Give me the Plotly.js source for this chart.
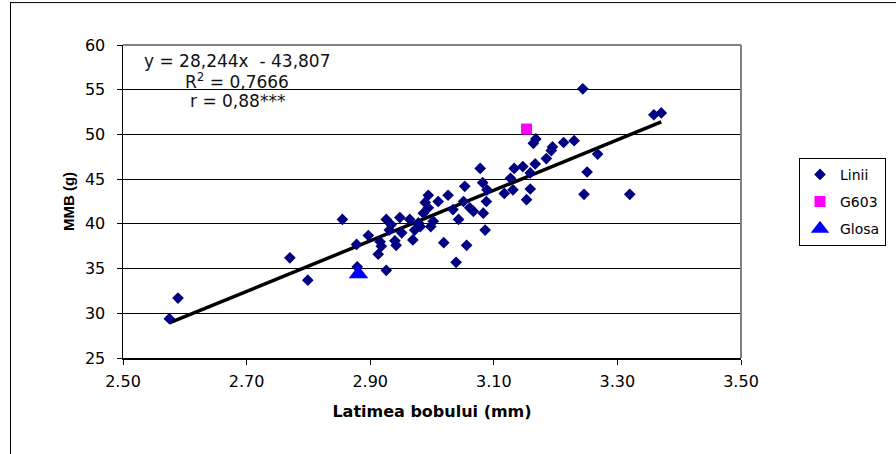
<!DOCTYPE html>
<html>
<head>
<meta charset="utf-8">
<script src="https://cdn.plot.ly/plotly-3.0.1.min.js"></script>
<style>html,body{margin:0;padding:0;background:#fff;}</style>
</head>
<body>
<div id="chart" style="width:896px;height:454px;"></div>
<script>
// ---- data ----
const liniiX = [2.575,2.589,2.770,2.799,2.855,2.878,2.879,2.897,2.913,2.916,2.918,2.926,2.926,2.931,2.934,2.940,2.942,2.948,2.951,2.964,2.969,2.972,2.978,2.981,2.986,2.989,2.994,2.994,2.998,3.002,3.010,3.019,3.026,3.034,3.039,3.043,3.051,3.053,3.056,3.061,3.067,3.078,3.082,3.083,3.086,3.088,3.089,3.117,3.127,3.131,3.133,3.147,3.153,3.159,3.159,3.164,3.168,3.167,3.185,3.193,3.195,3.213,3.230,3.244,3.246,3.251,3.268,3.320,3.359,3.371];
const liniiY = [29.4,31.7,36.2,33.7,40.5,37.7,35.2,38.7,36.6,38.0,37.5,34.8,40.5,39.3,39.9,38.1,37.6,40.7,39.0,40.5,38.2,39.3,40.1,39.7,41.2,42.4,43.2,41.8,39.7,40.3,42.5,37.9,43.2,41.6,35.7,40.5,42.5,44.2,37.6,41.8,41.4,46.2,44.6,41.2,39.3,42.5,43.8,43.4,45.1,43.8,46.2,46.4,42.7,43.9,45.7,49.0,49.5,46.7,47.3,48.2,48.6,49.1,49.3,55.1,43.3,45.8,47.8,43.3,52.2,52.4];
const g603X = [3.153];
const g603Y = [50.6];
const glosaX = [2.881];
const glosaY = [34.4];
const trendSlope = 28.244;
const trendIntercept = -43.807;
const xTickVals = [2.5, 2.7, 2.9, 3.1, 3.3, 3.5];
const xTickText = ['2.50', '2.70', '2.90', '3.10', '3.30', '3.50'];
const yTickVals = [25, 30, 35, 40, 45, 50, 55, 60];
const equationLines = ['y = 28,244x  - 43,807', 'R<sup>2</sup> = 0,7666', 'r = 0,88***'];

// trend line built from the regression constants over the Linii x-range
const tx = [Math.min(...liniiX), Math.max(...liniiX)];
const ty = tx.map(v => trendSlope * v + trendIntercept);

const SANS = 'Liberation Sans, Arial, sans-serif';
const WIDE = 'DejaVu Sans, Liberation Sans, sans-serif';

const traces = [
  {x: tx, y: ty, mode: 'lines', line: {color: '#000', width: 3.5}, showlegend: false, hoverinfo: 'skip'},
  {x: liniiX, y: liniiY, mode: 'markers', name: 'Linii', legendgroup: 'a',
   marker: {symbol: 'diamond', size: 9, color: '#000080'}},
  {x: g603X, y: g603Y, mode: 'markers', name: 'G603', legendgroup: 'b',
   marker: {symbol: 'square', size: 11, color: '#FF00FF'}},
  {x: glosaX, y: glosaY, mode: 'markers', name: 'Glosa', legendgroup: 'c',
   marker: {symbol: 'triangle-up', size: 17, color: '#0000FF'}}
];

const L = 123, R = 741, T = 45, B = 358.5;
const px = v => (v - L) / (R - L);
const py = v => (B - v) / (B - T);

const eqY = [61.5, 81.5, 101.5];

const layout = {
  width: 896, height: 454,
  margin: {l: L, r: 896 - R, t: T, b: 454 - B, pad: 0, autoexpand: false},
  paper_bgcolor: '#fff', plot_bgcolor: '#fff',
  font: {family: WIDE, color: '#000', size: 15},
  showlegend: true,
  legend: {
    x: px(799), y: py(158), xanchor: 'left', yanchor: 'top',
    bordercolor: '#000', borderwidth: 1, bgcolor: '#fff',
    font: {size: 14, family: WIDE}, itemwidth: 30, tracegroupgap: 6
  },
  xaxis: {
    range: [2.5, 3.5], tickvals: xTickVals, ticktext: xTickText,
    showgrid: false, zeroline: false, showline: true, linecolor: '#000', linewidth: 1.5,
    ticks: 'outside', ticklen: 5, tickcolor: '#000', tickwidth: 1,
    tickfont: {size: 16, family: WIDE}, ticklabelstandoff: 3,
    title: {text: '<b>Latimea bobului (mm)</b>', font: {size: 16, family: WIDE}, standoff: 16}
  },
  yaxis: {
    range: [25, 60], tickvals: yTickVals,
    showgrid: true, gridcolor: '#000', gridwidth: 1, zeroline: false,
    showline: true, linecolor: '#000', linewidth: 1.5,
    ticks: 'outside', ticklen: 5, tickcolor: '#000', tickwidth: 1,
    tickfont: {size: 16, family: WIDE}, ticklabelstandoff: 8,
    title: {text: '<b>MMB (g)</b>', font: {size: 15, family: SANS}, standoff: 6}
  },
  annotations: equationLines.map((t, i) => ({
    xref: 'paper', yref: 'paper', x: px(237), y: py(eqY[i]), xanchor: 'center', yanchor: 'middle',
    text: t, showarrow: false, align: 'center',
    font: {size: 17, family: WIDE, color: '#111'}
  })),
  shapes: [
    {type: 'line', xref: 'paper', yref: 'paper', x0: 0, x1: 1, y0: 1, y1: 1, line: {color: '#808080', width: 2}},
    {type: 'line', xref: 'paper', yref: 'paper', x0: 1, x1: 1, y0: 0, y1: 1, line: {color: '#808080', width: 2}},
    {type: 'line', xref: 'paper', yref: 'paper', x0: px(10.5), x1: px(10.5), y0: py(2), y1: py(460), line: {color: '#000', width: 1}},
    {type: 'line', xref: 'paper', yref: 'paper', x0: px(10.5), x1: px(900), y0: py(2.5), y1: py(2.5), line: {color: '#000', width: 1}}
  ]
};

Plotly.newPlot('chart', traces, layout, {displayModeBar: false, staticPlot: true});
</script>
</body>
</html>
